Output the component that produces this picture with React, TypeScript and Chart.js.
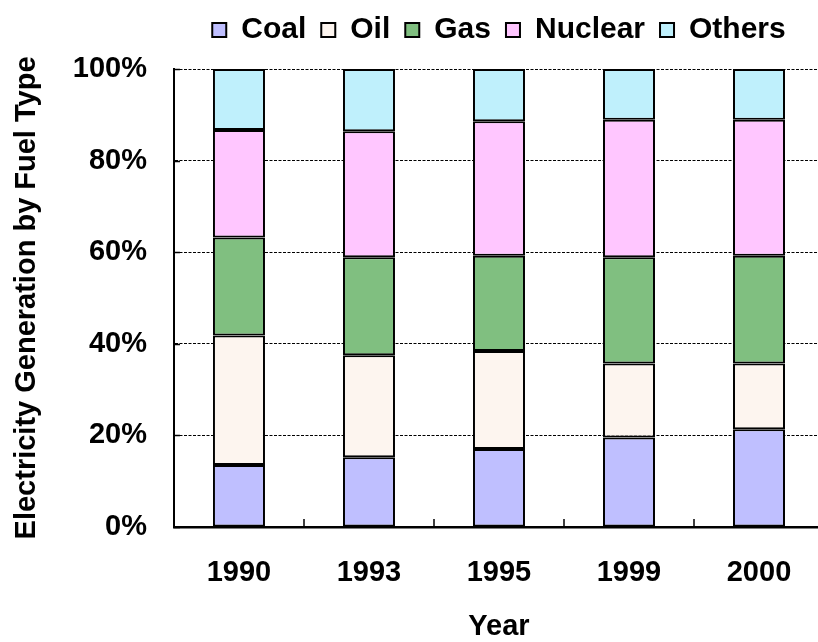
import React, { useEffect, useRef } from 'react';
import { Chart, registerables } from 'chart.js';

Chart.register(...registerables);

const years = ['1990', '1993', '1995', '1999', '2000'];
const coal = [13.5, 15.2, 17.0, 19.5, 21.3];
const oil = [28.3, 22.3, 21.4, 16.2, 14.4];
const gas = [21.4, 21.4, 20.8, 23.2, 23.5];
const nuclear = [23.5, 27.5, 29.4, 30.0, 29.7];
const others = [13.3, 13.6, 11.4, 11.1, 11.1];
const seriesNames = ['Coal', 'Oil', 'Gas', 'Nuclear', 'Others'];
const seriesValues = [coal, oil, gas, nuclear, others];
const seriesColors = ['#BFBFFF', '#FDF5EF', '#80BF80', '#FFC6FF', '#BFF0FC'];
const yMax = 100;
const yStep = 20;
const xTitle = 'Year';
const yTitle = 'Electricity Generation by Fuel Type';

const FONT = '"Liberation Sans", Arial, Helvetica, sans-serif';

const innerTicks = {
  id: 'innerTicks',
  afterDraw(chart: any) {
    const { ctx, chartArea, scales } = chart;
    const x = scales.x;
    const y = scales.y;
    ctx.save();
    ctx.strokeStyle = '#000';
    ctx.lineWidth = 1.5;
    ctx.beginPath();
    for (let i = 1; i < years.length; i++) {
      const px = Math.round((x.getPixelForValue(i - 1) + x.getPixelForValue(i)) / 2);
      ctx.moveTo(px, chartArea.bottom);
      ctx.lineTo(px, chartArea.bottom - 8);
    }
    for (const t of y.ticks) {
      const py = Math.round(y.getPixelForValue(t.value)) + 0.5;
      ctx.moveTo(chartArea.left, py);
      ctx.lineTo(chartArea.left + 6, py);
    }
    ctx.stroke();
    ctx.restore();
  },
};

export default function App() {
  const canvasRef = useRef<HTMLCanvasElement | null>(null);

  useEffect(() => {
    if (!canvasRef.current) return;
    const chart = new Chart(canvasRef.current, {
      type: 'bar',
      data: {
        labels: years,
        datasets: seriesNames.map((name, i) => ({
          label: name,
          data: seriesValues[i],
          backgroundColor: seriesColors[i],
          borderColor: '#000',
          borderWidth: 2,
          borderSkipped: false,
          barPercentage: 0.4,
          categoryPercentage: 1.0,
        })),
      },
      options: {
        animation: false,
        responsive: true,
        maintainAspectRatio: false,
        layout: { padding: { top: 0, left: 0, right: 0, bottom: 0 } },
        plugins: {
          legend: {
            display: true,
            position: 'top',
            align: 'center',
            fullSize: false,
            weight: 3000,
            labels: {
              boxWidth: 14,
              boxHeight: 14,
              padding: 15,
              color: '#000',
              font: { family: FONT, size: 30, weight: 'bold' },
            },
          },
          title: {
            display: true,
            text: '',
            position: 'top',
            weight: 500,
            padding: 0,
            font: { size: 14, lineHeight: 1 },
          },
          tooltip: { enabled: false },
        },
        scales: {
          x: {
            stacked: true,
            grid: { display: false, drawTicks: false },
            border: { display: true, color: '#000', width: 2.5 },
            ticks: {
              color: '#000',
              padding: 29,
              font: { family: FONT, size: 29, weight: 'bold' },
            },
            title: {
              display: true,
              text: xTitle,
              color: '#000',
              font: { family: FONT, size: 29, weight: 'bold' },
              padding: { top: -10, bottom: -2.5 },
            },
          },
          y: {
            stacked: true,
            min: 0,
            max: yMax,
            grid: { display: true, color: '#000', lineWidth: 1, drawTicks: false },
            border: { display: true, color: '#000', width: 2, dash: [3, 1.5] },
            ticks: {
              stepSize: yStep,
              color: '#000',
              padding: 27,
              font: { family: FONT, size: 29, weight: 'bold' },
              callback: (v: any) => v + '%',
            },
            title: {
              display: true,
              text: yTitle,
              color: '#000',
              font: { family: FONT, size: 29, weight: 'bold' },
              padding: { top: 10, bottom: 1 },
            },
          },
        },
      },
      plugins: [innerTicks],
    } as any);
    return () => chart.destroy();
  }, []);

  return (
    <div style={{ position: 'fixed', left: 0, top: 0, width: 818, height: 642, overflow: 'hidden', background: '#fff' }}>
      <div style={{ position: 'relative', width: 824, height: 642 }}>
        <canvas ref={canvasRef} />
      </div>
    </div>
  );
}
